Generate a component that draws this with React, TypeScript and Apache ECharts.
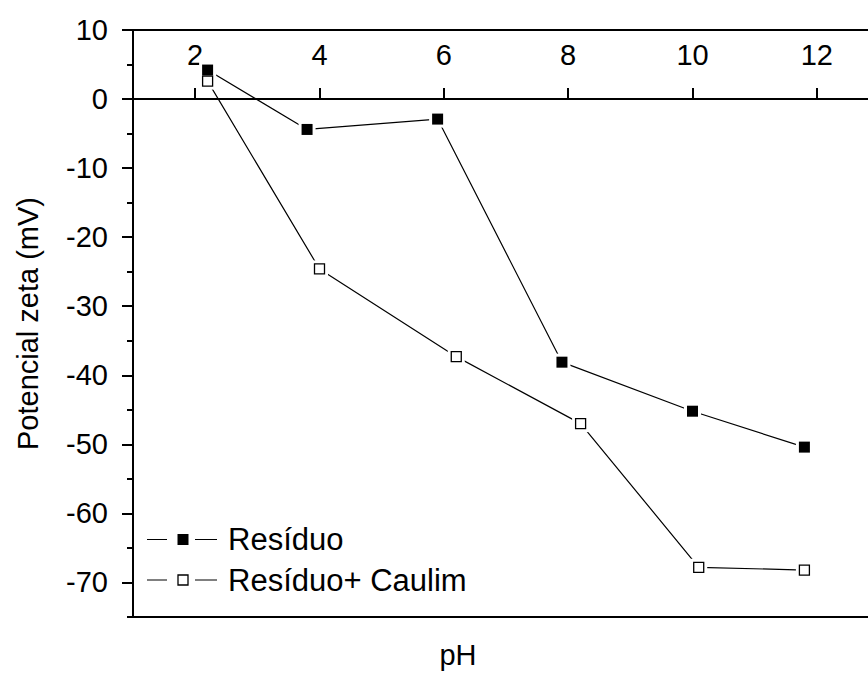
import React, { useEffect, useRef } from "react";
import * as echarts from "echarts";

const residuoPH = [2.2, 3.8, 5.9, 7.9, 10.0, 11.8];
const residuoZeta = [4.2, -4.4, -2.9, -38.1, -45.2, -50.4];
const caulimPH = [2.2, 4.0, 6.2, 8.2, 10.1, 11.8];
const caulimZeta = [2.6, -24.6, -37.3, -47.0, -67.8, -68.2];

const xTickValues = [2, 4, 6, 8, 10, 12];
const yTickValues = [-70, -60, -50, -40, -30, -20, -10, 0, 10];
const yMinorValues = [-75, -65, -55, -45, -35, -25, -15, -5, 5];

const seriesNames = ["Resíduo", "Resíduo+ Caulim"];
const xTitle = "pH";
const yTitle = "Potencial zeta (mV)";

const FONT = "'Liberation Sans', Arial, sans-serif";

function pairs(xs: number[], ys: number[]) {
  return xs.map((x, i) => [x, ys[i]]);
}

export default function App() {
  const ref = useRef<HTMLDivElement>(null);
  useEffect(() => {
    if (!ref.current) return;
    const chart = echarts.init(ref.current, null, { renderer: "svg" });
    const gridRect = { left: 133, top: 30, width: 746, height: 587 };
    // upper part of the plot: from y = 10 down to y = 0, its bottom edge is the zero line
    const upperRect = { left: 133, top: 30, width: 746, height: 69 };
    const legendRow = (y: number, filled: boolean, name: string) => ({
      type: "group",
      children: [
        { type: "line", shape: { x1: 147, y1: y, x2: 167, y2: y }, style: { stroke: "#000", lineWidth: 1 } },
        { type: "line", shape: { x1: 195, y1: y, x2: 217, y2: y }, style: { stroke: "#000", lineWidth: 1 } },
        {
          type: "rect",
          shape: { x: filled ? 177.5 : 178, y: y - (filled ? 5.5 : 5), width: filled ? 11 : 10, height: filled ? 11 : 10 },
          style: { fill: filled ? "#000" : "#fff", stroke: "#000", lineWidth: filled ? 0 : 1.3 },
        },
        {
          type: "text",
          x: 228,
          y: y,
          style: { text: name, fontSize: 31, fontFamily: FONT, fill: "#000", verticalAlign: "middle", align: "left" },
        },
      ],
    });
    chart.setOption({
      animation: false,
      backgroundColor: "#fff",
      grid: [
        { ...gridRect, show: true, borderColor: "#000", borderWidth: 2, backgroundColor: "transparent" },
        { ...upperRect, show: false },
        { ...gridRect, show: false },
      ],
      xAxis: [
        {
          type: "value",
          gridIndex: 0,
          min: 1,
          max: 13,
          axisLine: { show: false, onZero: false },
          axisTick: { show: false },
          axisLabel: { show: false },
          splitLine: { show: false },
        },
        {
          type: "value",
          gridIndex: 1,
          position: "bottom",
          min: 1,
          max: 13,
          axisLine: { show: true, onZero: false, lineStyle: { color: "#000", width: 2 } },
          axisTick: { show: true, inside: true, length: 11, customValues: xTickValues, lineStyle: { color: "#000", width: 2 } },
          axisLabel: {
            show: true,
            inside: true,
            margin: 30,
            customValues: xTickValues,
            fontSize: 29,
            fontFamily: FONT,
            color: "#000",
          },
          splitLine: { show: false },
        },
        {
          type: "value",
          gridIndex: 2,
          min: 1,
          max: 13,
          axisLine: { show: false, onZero: false },
          axisTick: { show: false },
          axisLabel: { show: false },
          splitLine: { show: false },
        },
      ],
      yAxis: [
        {
          type: "value",
          gridIndex: 0,
          min: -75,
          max: 10,
          name: yTitle,
          nameLocation: "middle",
          nameGap: 91,
          nameTextStyle: { fontSize: 29, fontFamily: FONT, color: "#000" },
          axisLine: { show: true, onZero: false, lineStyle: { color: "#000", width: 2 } },
          axisTick: { show: true, inside: false, length: 11, customValues: yTickValues, lineStyle: { color: "#000", width: 2 } },
          axisLabel: {
            show: true,
            margin: 25,
            customValues: yTickValues,
            fontSize: 29,
            fontFamily: FONT,
            color: "#000",
          },
          splitLine: { show: false },
        },
        {
          type: "value",
          gridIndex: 1,
          min: 0,
          max: 10,
          axisLine: { show: false, onZero: false },
          axisTick: { show: false },
          axisLabel: { show: false },
          splitLine: { show: false },
        },
        {
          type: "value",
          gridIndex: 2,
          min: -75,
          max: 10,
          axisLine: { show: false, onZero: false },
          axisTick: { show: true, inside: false, length: 6, customValues: yMinorValues, lineStyle: { color: "#000", width: 2 } },
          axisLabel: { show: false },
          splitLine: { show: false },
        },
      ],
      series: [
        {
          name: seriesNames[0],
          type: "line",
          data: pairs(residuoPH, residuoZeta),
          symbol: "none",
          lineStyle: { color: "#000", width: 1.2 },
          z: 2,
        },
        {
          name: seriesNames[1],
          type: "line",
          data: pairs(caulimPH, caulimZeta),
          symbol: "none",
          lineStyle: { color: "#000", width: 1.2 },
          z: 2,
        },
        {
          type: "scatter",
          data: pairs(residuoPH, residuoZeta).concat(pairs(caulimPH, caulimZeta)),
          symbol: "rect",
          symbolSize: 17,
          itemStyle: { color: "#fff", borderWidth: 0, opacity: 1 },
          z: 3,
          silent: true,
        },
        {
          name: seriesNames[0],
          type: "scatter",
          data: pairs(residuoPH, residuoZeta),
          symbol: "rect",
          symbolSize: 11,
          itemStyle: { color: "#000", borderWidth: 0, opacity: 1 },
          z: 4,
        },
        {
          name: seriesNames[1],
          type: "scatter",
          data: pairs(caulimPH, caulimZeta),
          symbol: "rect",
          symbolSize: 10,
          itemStyle: { color: "#fff", borderColor: "#000", borderWidth: 1.3, opacity: 1 },
          z: 4,
        },
      ],
      graphic: [
        legendRow(539.5, true, seriesNames[0]),
        legendRow(580, false, seriesNames[1]),
        {
          type: "text",
          x: 458,
          y: 655,
          style: { text: xTitle, fontSize: 29, fontFamily: FONT, fill: "#000", align: "center", verticalAlign: "middle" },
        },
      ],
    });
    return () => chart.dispose();
  }, []);
  return (
    <div style={{ position: "fixed", left: 0, top: 0, width: 868, height: 673, overflow: "hidden", background: "#fff" }}>
      <div ref={ref} style={{ width: 880, height: 673 }} />
    </div>
  );
}
